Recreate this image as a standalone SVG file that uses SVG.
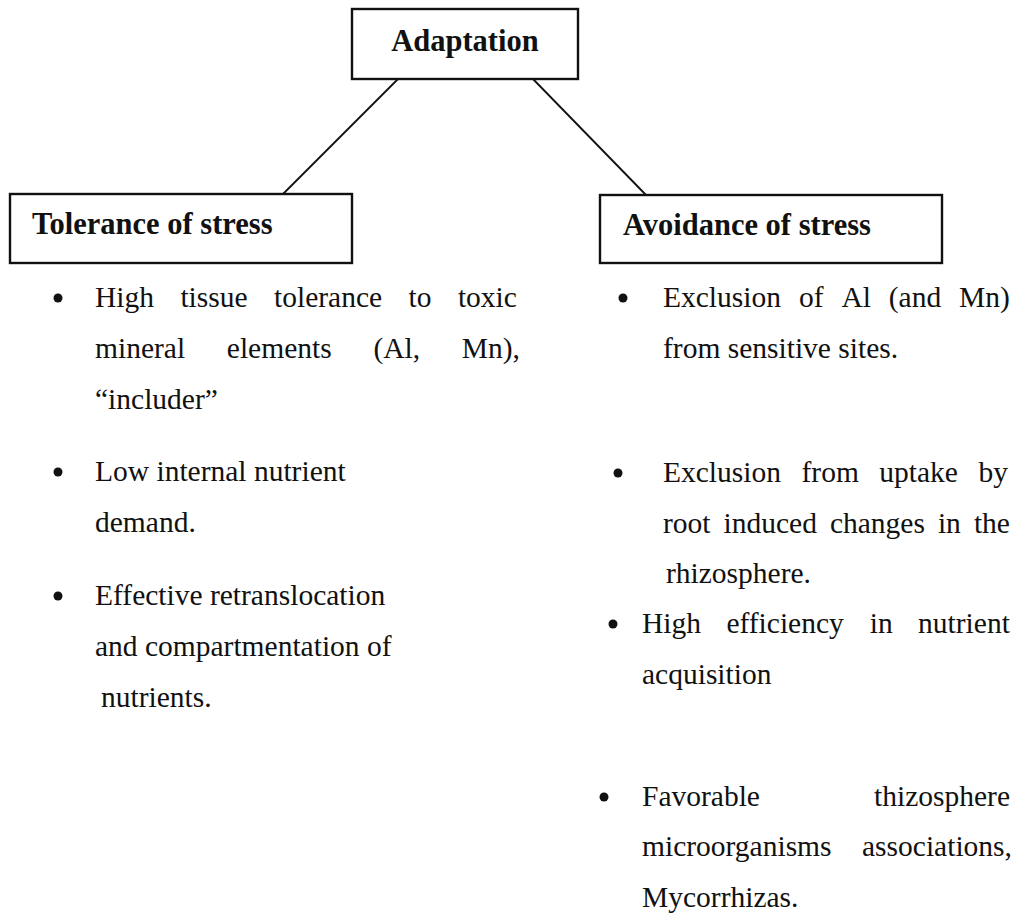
<svg xmlns="http://www.w3.org/2000/svg" width="1018" height="924" viewBox="0 0 1018 924">
<style>
.box{fill:#fff;stroke:#111;stroke-width:2.4}
.hd{font-family:"Liberation Serif","Times New Roman",serif;font-weight:bold;font-size:30.5px;fill:#111}
.tx{font-family:"Liberation Serif","Times New Roman",serif;font-size:29.5px;fill:#111}
.bl{fill:#111}
.cn{stroke:#111;stroke-width:1.8;fill:none}
</style>
<rect width="1018" height="924" fill="#fff"/>
<g id="connectors">
<line class="cn" x1="398" y1="79" x2="283" y2="194"/>
<line class="cn" x1="533" y1="79" x2="646" y2="195"/>
</g>
<g id="adaptation">
<rect class="box" x="352" y="9" width="226" height="70"/>
<text class="hd" x="465" y="51" text-anchor="middle">Adaptation</text>
</g>
<g id="tolerance">
<rect class="box" x="10" y="194" width="342" height="69"/>
<text class="hd" x="32" y="234">Tolerance of stress</text>
</g>
<g id="avoidance">
<rect class="box" x="600" y="195" width="342" height="68"/>
<text class="hd" x="623" y="235">Avoidance of stress</text>
</g>
<g id="tolerance-items">
<circle class="bl" cx="58" cy="298" r="4.5"/>
<text class="tx" y="307"><tspan x="95">High</tspan><tspan x="180.4">tissue</tspan><tspan x="274">tolerance</tspan><tspan x="408.5">to</tspan><tspan x="457.9">toxic</tspan></text>
<text class="tx" y="358"><tspan x="95">mineral</tspan><tspan x="226.8">elements</tspan><tspan x="373.4">(Al,</tspan><tspan x="461.8">Mn),</tspan></text>
<text class="tx" x="95" y="409">“includer”</text>
<circle class="bl" cx="58" cy="472" r="4.5"/>
<text class="tx" x="95" y="481">Low internal nutrient</text>
<text class="tx" x="95" y="532">demand.</text>
<circle class="bl" cx="58" cy="596" r="4.5"/>
<text class="tx" x="95" y="605">Effective retranslocation</text>
<text class="tx" x="95" y="656">and compartmentation of</text>
<text class="tx" x="101" y="707">nutrients.</text>
</g>
<g id="avoidance-items">
<circle class="bl" cx="623" cy="298" r="4.5"/>
<text class="tx" y="307"><tspan x="663">Exclusion</tspan><tspan x="798.9">of</tspan><tspan x="841.4">Al</tspan><tspan x="888.8">(and</tspan><tspan x="959.1">Mn)</tspan></text>
<text class="tx" x="663" y="358">from sensitive sites.</text>
<circle class="bl" cx="618" cy="473" r="4.5"/>
<text class="tx" y="482"><tspan x="663">Exclusion</tspan><tspan x="801.5">from</tspan><tspan x="879.3">uptake</tspan><tspan x="978.4">by</tspan></text>
<text class="tx" y="533"><tspan x="663">root</tspan><tspan x="723.5">induced</tspan><tspan x="829.9">changes</tspan><tspan x="937.9">in</tspan><tspan x="973.9">the</tspan></text>
<text class="tx" x="666" y="583">rhizosphere.</text>
<circle class="bl" cx="613" cy="624" r="4.5"/>
<text class="tx" y="633"><tspan x="642">High</tspan><tspan x="726.4">efficiency</tspan><tspan x="869.7">in</tspan><tspan x="918.1">nutrient</tspan></text>
<text class="tx" x="642" y="684">acquisition</text>
<circle class="bl" cx="604" cy="797" r="4.5"/>
<text class="tx" y="806"><tspan x="642">Favorable</tspan><tspan x="874">thizosphere</tspan></text>
<text class="tx" y="856"><tspan x="642">microorganisms</tspan><tspan x="862">associations,</tspan></text>
<text class="tx" x="642" y="907">Mycorrhizas.</text>
</g>
</svg>
